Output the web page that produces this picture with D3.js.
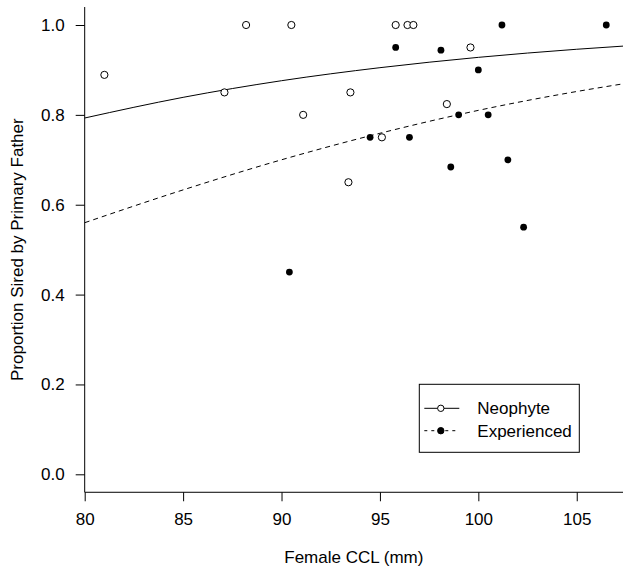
<!DOCTYPE html>
<html>
<head>
<meta charset="utf-8">
<script src="https://cdn.jsdelivr.net/npm/d3@7"></script>
<style>
  body { margin: 0; background: #fff; }
  svg text { font-family: "Liberation Sans", Arial, sans-serif; fill: #000; }
</style>
</head>
<body>
<div id="chart"></div>
<script>
// Neophyte females (open circles)
const neoCCL  = [81.0, 87.1, 88.2, 90.5, 91.1, 93.4, 93.5, 95.1, 95.8, 96.4, 96.7, 98.4, 99.6];
const neoProp = [0.889, 0.85, 1.0, 1.0, 0.8, 0.65, 0.85, 0.75, 1.0, 1.0, 1.0, 0.824, 0.95];

// Experienced females (filled circles)
const expCCL  = [90.4, 94.5, 95.8, 96.5, 98.1, 98.6, 99.0, 100.0, 100.5, 101.2, 101.5, 102.3, 106.5];
const expProp = [0.45, 0.75, 0.95, 0.75, 0.944, 0.684, 0.8, 0.9, 0.8, 1.0, 0.7, 0.55, 1.0];

// Fitted curves
const fitX   = [80, 85, 90, 95, 100, 105, 107.35];
const neoFit = [0.793, 0.839, 0.876, 0.905, 0.928, 0.946, 0.953];
const expFit = [0.560, 0.633, 0.700, 0.759, 0.810, 0.852, 0.869];

const xTicks = [80, 85, 90, 95, 100, 105];
const yTicks = [0, 0.2, 0.4, 0.6, 0.8, 1.0];
const seriesNames = ["Neophyte", "Experienced"];

const W = 623, H = 567;
const fontSize = "17px";

const svg = d3.select("#chart")
    .append("svg")
    .attr("width", W)
    .attr("height", H);

// Scales
const x = d3.scaleLinear().domain([80, 107.35]).range([84.7, 623]);
const y = d3.scaleLinear().domain([0, 1]).range([474.3, 25]);

const axisY = y(-0.04);   // bottom axis line
const axisX = x(80);      // left axis line

// Axis lines (L-shaped frame)
svg.append("line")
    .attr("x1", axisX).attr("x2", axisX)
    .attr("y1", y(1.04)).attr("y2", axisY)
    .attr("stroke", "#000").attr("stroke-width", 1);
svg.append("line")
    .attr("x1", axisX).attr("x2", W)
    .attr("y1", axisY).attr("y2", axisY)
    .attr("stroke", "#000").attr("stroke-width", 1);

// X axis
const gx = svg.append("g")
    .attr("transform", `translate(0,${axisY})`)
    .call(d3.axisBottom(x).tickValues(xTicks).tickSize(9).tickPadding(12)
        .tickFormat(d3.format("d")));
gx.select(".domain").remove();
gx.selectAll("text").style("font-size", fontSize);

// Y axis
const gy = svg.append("g")
    .attr("transform", `translate(${axisX},0)`)
    .call(d3.axisLeft(y).tickValues(yTicks).tickSize(9).tickPadding(11)
        .tickFormat(d3.format(".1f")));
gy.select(".domain").remove();
gy.selectAll("text").style("font-size", fontSize);

// Axis titles
svg.append("text")
    .attr("x", (axisX + W) / 2)
    .attr("y", 563)
    .attr("text-anchor", "middle")
    .style("font-size", fontSize)
    .text("Female CCL (mm)");

svg.append("text")
    .attr("transform", `translate(23,${(y(1.04) + axisY) / 2}) rotate(-90)`)
    .attr("text-anchor", "middle")
    .style("font-size", fontSize)
    .text("Proportion Sired by Primary Father");

// Fitted lines
const line = d3.line()
    .x(d => x(d[0]))
    .y(d => y(d[1]))
    .curve(d3.curveMonotoneX);

svg.append("path")
    .datum(fitX.map((v, i) => [v, neoFit[i]]))
    .attr("d", line)
    .attr("fill", "none")
    .attr("stroke", "#000")
    .attr("stroke-width", 1);

svg.append("path")
    .datum(fitX.map((v, i) => [v, expFit[i]]))
    .attr("d", line)
    .attr("fill", "none")
    .attr("stroke", "#000")
    .attr("stroke-width", 1)
    .attr("stroke-dasharray", "5,4");

// Points
svg.selectAll(".neo")
    .data(neoCCL.map((v, i) => [v, neoProp[i]]))
    .join("circle")
    .attr("class", "neo")
    .attr("cx", d => x(d[0]))
    .attr("cy", d => y(d[1]))
    .attr("r", 3.6)
    .attr("fill", "#fff")
    .attr("stroke", "#000")
    .attr("stroke-width", 1);

svg.selectAll(".exp")
    .data(expCCL.map((v, i) => [v, expProp[i]]))
    .join("circle")
    .attr("class", "exp")
    .attr("cx", d => x(d[0]))
    .attr("cy", d => y(d[1]))
    .attr("r", 3.4)
    .attr("fill", "#000");

// Legend
const legend = svg.append("g").attr("transform", "translate(419.3,384.3)");
legend.append("rect")
    .attr("width", 160).attr("height", 68)
    .attr("fill", "#fff")
    .attr("stroke", "#000").attr("stroke-width", 1);

seriesNames.forEach((name, i) => {
    const ly = 24 + i * 22.4;
    const row = legend.append("g").attr("transform", `translate(0,${ly})`);
    row.append("line")
        .attr("x1", 5).attr("x2", 40)
        .attr("stroke", "#000").attr("stroke-width", 1)
        .attr("stroke-dasharray", i === 0 ? null : "3,4");
    row.append("circle")
        .attr("cx", 21.5)
        .attr("r", i === 0 ? 3.2 : 3.2)
        .attr("fill", i === 0 ? "#fff" : "#000")
        .attr("stroke", "#000").attr("stroke-width", 1);
    row.append("text")
        .attr("x", 58)
        .attr("dy", "0.35em")
        .style("font-size", fontSize)
        .text(name);
});
</script>
</body>
</html>
